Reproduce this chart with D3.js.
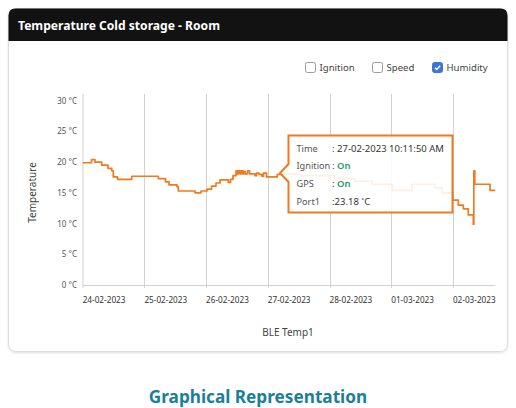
<!DOCTYPE html>
<html><head><meta charset="utf-8">
<script src="https://cdn.jsdelivr.net/npm/d3@7"></script>
<style>
html,body{margin:0;padding:0;background:#fff;}
svg{display:block;font-family:"Noto Sans","Open Sans",sans-serif;}
</style></head>
<body><svg id="c" width="516" height="408"></svg>
<script>
// ---- data ----
const chartTitle = "Temperature Cold storage - Room";
const legendItems = ["Ignition", "Speed", "Humidity"];
const legendChecked = [false, false, true];
const dayTicks = ["2023-02-24","2023-02-25","2023-02-26","2023-02-27","2023-02-28","2023-03-01","2023-03-02"];
const yTicks = [0, 5, 10, 15, 20, 25, 30];
const times = [
 "2023-02-24 00:00","2023-02-24 03:25","2023-02-24 04:47","2023-02-24 07:23","2023-02-24 09:50",
 "2023-02-24 11:17","2023-02-24 11:54","2023-02-24 13:32","2023-02-24 19:04","2023-02-25 05:25",
 "2023-02-25 08:13","2023-02-25 09:34","2023-02-25 12:41","2023-02-25 13:11","2023-02-25 19:41",
 "2023-02-25 22:01","2023-02-26 00:21","2023-02-26 02:06","2023-02-26 03:51","2023-02-26 05:25",
 "2023-02-26 08:38","2023-02-26 09:29","2023-02-26 10:28","2023-02-26 11:38","2023-02-26 12:13",
 "2023-02-26 12:36","2023-02-26 13:11","2023-02-26 13:35","2023-02-26 14:10","2023-02-26 14:33",
 "2023-02-26 15:08","2023-02-26 16:07","2023-02-26 16:53","2023-02-26 19:01","2023-02-26 19:36",
 "2023-02-26 20:35","2023-02-26 21:44","2023-02-26 22:20","2023-02-26 23:30","2023-02-27 03:42",
 "2023-02-27 12:31","2023-02-28 02:08","2023-02-28 09:55","2023-02-28 16:32","2023-03-01 00:19",
 "2023-03-01 08:05","2023-03-01 17:02","2023-03-01 19:46","2023-03-01 23:55","2023-03-02 02:06",
 "2023-03-02 04:03","2023-03-02 05:59","2023-03-02 07:56","2023-03-02 08:08","2023-03-02 08:31",
 "2023-03-02 14:26","2023-03-02 16:11"
];
const temps = [
 19.9,20.4,20.0,19.5,19.0,
 18.6,17.6,17.2,17.7,17.3,
 16.8,16.3,16.0,15.3,15.0,
 15.3,15.6,16.1,16.6,17.1,
 16.7,17.2,17.8,18.6,18.1,
 18.6,18.1,18.6,18.1,18.5,
 18.1,18.6,18.1,17.8,18.2,
 18.0,17.7,18.2,17.6,18.0,
 17.8,17.3,16.9,16.4,15.4,
 16.4,15.8,15.0,13.8,13.0,
 12.4,11.4,9.9,18.6,16.4,
 15.4,15.3
];
const xDomain = ["2023-02-24 00:00", "2023-03-02 16:22"];
const tipLabels = ["Time", "Ignition", "GPS", "Port1"];
const tipValues = [": 27-02-2023 10:11:50 AM", ": On", ": On", ":23.18 \u02DAC"];
const xTitle = "BLE Temp1", yTitle = "Temperature", footer = "Graphical Representation";

// ---- drawing ----
const parse = d3.timeParse("%Y-%m-%d %H:%M");
const parseDay = d3.timeParse("%Y-%m-%d");
const data = times.map((t,i)=>({t:parse(t), v:temps[i]}));
const svg = d3.select("#c");

// card
const card = {x:8.5, y:8.5, w:499, h:343, r:7};
const defs = svg.append("defs");
const f = defs.append("filter").attr("id","sh").attr("x","-5%").attr("y","-5%").attr("width","110%").attr("height","115%");
f.append("feDropShadow").attr("dx",0).attr("dy",1).attr("stdDeviation",1.2).attr("flood-color","#000").attr("flood-opacity",0.12);
svg.append("rect").attr("x",card.x).attr("y",card.y).attr("width",card.w).attr("height",card.h)
  .attr("rx",card.r).attr("fill","#fff").attr("stroke","#dcdcdc").attr("filter","url(#sh)");
// header with rounded top
const hx=card.x, hy=card.y, hw=card.w, hh=32.5, r=card.r;
svg.append("path").attr("d",`M${hx},${hy+hh}V${hy+r}Q${hx},${hy} ${hx+r},${hy}H${hx+hw-r}Q${hx+hw},${hy} ${hx+hw},${hy+r}V${hy+hh}Z`)
  .attr("fill","#121212");
svg.append("text").attr("x",18).attr("y",29.5).attr("fill","#fff").attr("font-size",12.1).attr("font-weight",700).text(chartTitle);

// legend checkboxes
const legX = [305.5, 372.5, 432.5];
legendItems.forEach((name,i)=>{
  const g = svg.append("g").attr("transform",`translate(${legX[i]},62.5)`);
  g.append("rect").attr("width",10).attr("height",10).attr("rx",2)
    .attr("fill",legendChecked[i]?"#3f74d6":"#fff").attr("stroke",legendChecked[i]?"#3f74d6":"#9a9a9a");
  if(legendChecked[i]) g.append("path").attr("d","M2.5,5.2L4.3,7L7.6,3.2").attr("fill","none").attr("stroke","#fff").attr("stroke-width",1.5);
  g.append("text").attr("x",14).attr("y",8.8).attr("font-size",9.6).attr("fill","#444").text(name);
});

// scales
const x = d3.scaleTime().domain(xDomain.map(parse)).range([82.7, 495]);
const y = d3.scaleLinear().domain([0,30]).range([285, 100.7]);
const plotTop = 94;

// vertical gridlines
svg.append("g").selectAll("line").data(dayTicks.slice(1)).join("line")
  .attr("x1",d=>Math.round(x(parseDay(d)))+0.5).attr("x2",d=>Math.round(x(parseDay(d)))+0.5)
  .attr("y1",plotTop).attr("y2",288).attr("stroke","#d2d2d2");

// axes lines
svg.append("line").attr("x1",83).attr("x2",83).attr("y1",plotTop).attr("y2",288).attr("stroke","#cfcfcf");
svg.append("line").attr("x1",83).attr("x2",495).attr("y1",285.5).attr("y2",285.5).attr("stroke","#cfcfcf");

// y tick labels
svg.append("g").selectAll("text").data(yTicks).join("text")
  .attr("x",77).attr("y",d=>y(d)+3).attr("text-anchor","end").attr("font-size",8).attr("fill","#555")
  .text(d=>d+" \u00B0C");
// x tick labels
const fmt = d3.timeFormat("%d-%m-%Y");
svg.append("g").selectAll("text").data(dayTicks).join("text")
  .attr("x",d=>x(parseDay(d))).attr("y",303).attr("font-size",8.2).attr("fill","#333")
  .text(d=>fmt(parseDay(d)));

// titles
svg.append("text").attr("transform","translate(36,192.5) rotate(-90)").attr("text-anchor","middle")
  .attr("font-size",10).attr("fill","#444").text(yTitle);
svg.append("text").attr("x",288).attr("y",336).attr("text-anchor","middle").attr("font-size",10).attr("fill","#444").text(xTitle);

// line
const line = d3.line().x(d=>x(d.t)).y(d=>y(d.v)).curve(d3.curveStepAfter);
svg.append("path").datum(data).attr("d",line).attr("fill","none").attr("stroke","#f07a1c").attr("stroke-width",1.7).attr("stroke-linejoin","round");

// tooltip
const tb = {x:288.5, y:135.5, w:164, h:77, ay:173, ax:280};
svg.append("path")
  .attr("d",`M${tb.x},${tb.y}H${tb.x+tb.w}V${tb.y+tb.h}H${tb.x}V${tb.ay+9}L${tb.ax},${tb.ay}L${tb.x},${tb.ay-9}Z`)
  .attr("fill","#fff").attr("fill-opacity",0.88).attr("stroke","#ee7b22").attr("stroke-width",2).attr("stroke-linejoin","miter");
const rowsY = [151.5, 169.3, 187.3, 205];
const valX = [332, 332, 332, 332];
tipLabels.forEach((l,i)=>{
  svg.append("text").attr("x",296.5).attr("y",rowsY[i]).attr("font-size",9.2).attr("fill","#555").text(l);
  const t = svg.append("text").attr("x",valX[i]).attr("y",rowsY[i]).attr("font-size",9.5).attr("fill","#333");
  if(i===1||i===2){
    t.append("tspan").text(": ");
    t.append("tspan").attr("fill","#1f9e6a").attr("font-weight",600).text(tipValues[i].slice(2));
  } else t.text(tipValues[i]);
});

// footer
svg.append("text").attr("x",258).attr("y",403).attr("text-anchor","middle").attr("font-size",17.2)
  .attr("font-weight",700).attr("fill","#1c7f9a").text(footer);
</script></body></html>
